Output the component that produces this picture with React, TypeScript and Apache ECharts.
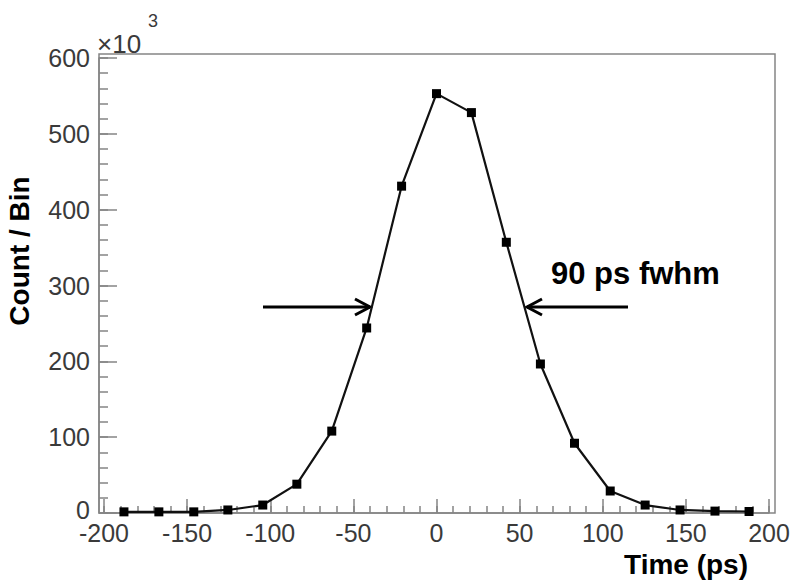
import React, { useEffect, useRef } from 'react';
import * as echarts from 'echarts';

// Bin centres (ps) and counts (x10^3)
const timePs = [-188, -167, -146, -125.5, -104.5, -84, -63, -42, -21, 0, 21, 42, 62.5, 83, 104.5, 125.5, 146.5, 167.5, 188];
const counts = [1.5, 1.5, 1.5, 4, 10.5, 38, 108, 244, 431, 553, 528, 357, 196.5, 92, 29, 10.5, 4, 2.5, 2];

const xRange = [-200, 200];
const yRange = [0, 600];
const xMajor = 50;
const xMinor = 10;
const yMajor = 100;
const yMinor = 20;

const annotationText = '90 ps fwhm';
const xTitle = 'Time (ps)';
const yTitle = 'Count / Bin';

const FONT = "'Liberation Sans', Arial, Helvetica, sans-serif";
const AX = '#858585';
const LBL = '#3a3a3a';

function arrow(x1: number, x2: number, y: number) {
  const dir = x2 > x1 ? 1 : -1;
  return {
    type: 'group',
    children: [
      { type: 'line', shape: { x1, y1: y, x2, y2: y }, style: { stroke: '#000', lineWidth: 3 } },
      {
        type: 'polyline',
        shape: { points: [[x2 - dir * 15, y - 8], [x2, y], [x2 - dir * 15, y + 8]] },
        style: { stroke: '#000', lineWidth: 3, fill: 'none' },
      },
    ],
  };
}

export default function App() {
  const ref = useRef<HTMLDivElement>(null);
  useEffect(() => {
    if (!ref.current) return;
    const chart = echarts.init(ref.current, null, { renderer: 'svg' });
    chart.setOption({
      animation: false,
      backgroundColor: '#fff',
      grid: { left: 104, right: 31, top: 58, bottom: 75, show: false },
      xAxis: [
        {
          type: 'value', min: xRange[0], max: xRange[1], interval: xMajor, position: 'bottom',
          axisLine: { show: true, onZero: false, lineStyle: { color: AX, width: 1.5 } },
          axisTick: { show: true, inside: true, length: 14, lineStyle: { color: AX, width: 1.5 } },
          axisLabel: { show: true, margin: 11, fontSize: 25, lineHeight: 18, color: LBL, fontFamily: FONT },
          splitLine: { show: false },
        },
        {
          type: 'value', min: xRange[0], max: xRange[1], interval: xMinor, position: 'bottom',
          axisLine: { show: false, onZero: false },
          axisTick: { show: true, inside: true, length: 7, lineStyle: { color: AX, width: 1.5 } },
          axisLabel: { show: false },
          splitLine: { show: false },
        },
      ],
      yAxis: [
        {
          type: 'value', min: yRange[0], max: yRange[1], interval: yMajor, position: 'left', offset: 5,
          axisLine: { show: true, onZero: false, lineStyle: { color: AX, width: 1.5 } },
          axisTick: { show: true, inside: true, length: 18, lineStyle: { color: AX, width: 1.5 } },
          axisLabel: {
            show: true, margin: 9, fontSize: 25, lineHeight: 18, color: LBL, fontFamily: FONT,
            formatter: (v: number) => (v === 0 ? '{z|0}' : String(v)),
            rich: { z: { fontSize: 25, lineHeight: 18, color: LBL, fontFamily: FONT, padding: [0, 0, 6, 0] } },
          },
          splitLine: { show: false },
        },
        {
          type: 'value', min: yRange[0], max: yRange[1], interval: yMinor, position: 'left', offset: 5,
          axisLine: { show: false, onZero: false },
          axisTick: { show: true, inside: true, length: 9, lineStyle: { color: AX, width: 1.5 } },
          axisLabel: { show: false },
          splitLine: { show: false },
        },
      ],
      series: [
        {
          type: 'line',
          xAxisIndex: 0,
          yAxisIndex: 0,
          data: timePs.map((t, i) => [t, counts[i]]),
          symbol: 'rect',
          symbolSize: 9,
          showAllSymbol: true,
          lineStyle: { color: '#111', width: 2.2 },
          itemStyle: { color: '#000' },
          z: 5,
        },
      ],
      graphic: [
        {
          type: 'rect', shape: { x: 99, y: 54, width: 676, height: 459 },
          style: { stroke: AX, lineWidth: 1.5, fill: 'none' }, z: 1,
        },
        arrow(263, 370, 307),
        arrow(628, 527, 307),
        {
          type: 'text', x: 551, y: 273,
          style: { text: annotationText, font: `bold 31px ${FONT}`, fill: '#000', textAlign: 'left', textVerticalAlign: 'middle' },
        },
        {
          type: 'text', x: 748, y: 564,
          style: { text: xTitle, font: `bold 28px ${FONT}`, fill: '#000', textAlign: 'right', textVerticalAlign: 'middle' },
        },
        {
          type: 'text', x: 19, y: 251, rotation: Math.PI / 2,
          style: { text: yTitle, font: `bold 28px ${FONT}`, fill: '#000', textAlign: 'center', textVerticalAlign: 'middle' },
        },
        {
          type: 'text', x: 97, y: 44,
          style: { text: '×10', font: `26px ${FONT}`, fill: LBL, textAlign: 'left', textVerticalAlign: 'middle' },
        },
        {
          type: 'text', x: 148, y: 21,
          style: { text: '3', font: `18px ${FONT}`, fill: LBL, textAlign: 'left', textVerticalAlign: 'middle' },
        },
      ],
    });
    return () => chart.dispose();
  }, []);
  return <div ref={ref} style={{ position: 'fixed', left: 0, top: 0, width: 800, height: 588 }} />;
}
